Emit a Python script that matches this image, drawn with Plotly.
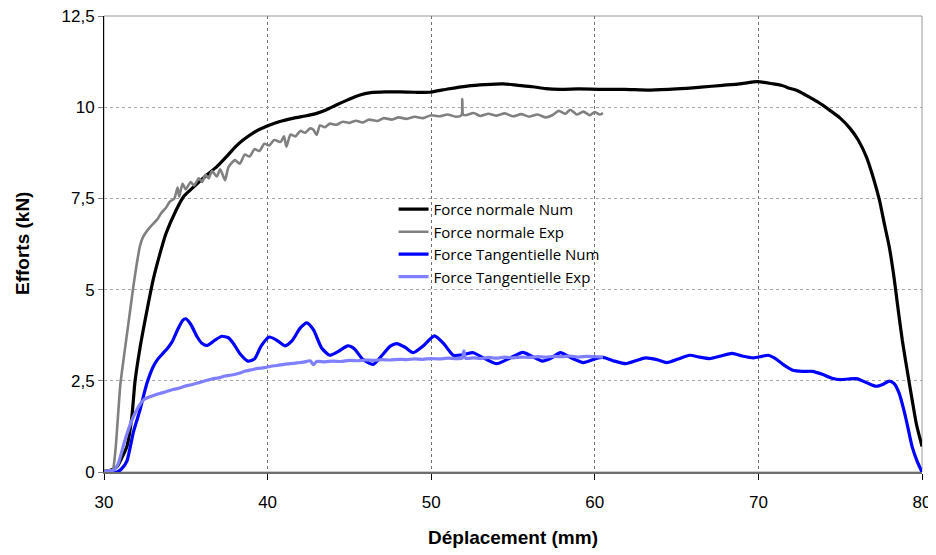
import plotly.graph_objects as go

# ---- data ----
fn_num_x = [30.0, 30.4, 30.8, 31.1, 31.4, 31.7, 31.9, 32.2, 32.4, 32.7, 33.0, 33.4, 33.8, 34.4, 34.85,
            35.25, 35.8, 36.3, 36.9, 37.5, 38.0, 38.5, 39.2, 39.9, 40.7, 41.6, 42.3, 43.0, 43.6, 44.2,
            44.9, 45.6, 46.3, 47.2, 48.1, 49.0, 49.9, 51.0, 52.2, 53.3, 54.4, 55.3, 56.2, 57.0, 57.9,
            59.0, 60.3, 61.8, 63.4, 65.0, 66.5, 67.8, 68.85, 69.97, 70.9, 71.4, 71.9, 72.4, 72.9, 73.6,
            74.35, 75.0, 75.6, 76.1, 76.6, 77.0, 77.4, 77.7, 78.0, 78.3, 78.5, 78.8, 79.2, 79.4, 79.65, 80.0]
fn_num_y = [0.02, 0.05, 0.15, 0.4, 0.7, 1.5, 2.5, 3.4, 3.9, 4.6, 5.26, 5.95, 6.55, 7.17, 7.54,
            7.72, 7.95, 8.15, 8.37, 8.65, 8.9, 9.1, 9.32, 9.47, 9.6, 9.7, 9.76, 9.83, 9.93, 10.06,
            10.2, 10.33, 10.4, 10.42, 10.42, 10.41, 10.41, 10.5, 10.58, 10.62, 10.64, 10.6, 10.56, 10.51, 10.49,
            10.5, 10.49, 10.49, 10.47, 10.5, 10.55, 10.6, 10.64, 10.7, 10.64, 10.6, 10.52, 10.45, 10.33, 10.15,
            9.92, 9.7, 9.42, 9.1, 8.64, 8.1, 7.45, 6.8, 6.17, 5.3, 4.6, 3.6, 2.5, 1.97, 1.33, 0.7]

fn_exp_x = [30.0, 30.5, 30.7, 30.85, 31.0, 31.2, 31.5, 31.8, 32.0, 32.2, 32.4, 32.7, 33.0, 33.3, 33.5,
            33.8, 34.0, 34.3, 34.5, 34.6, 34.8, 35.0, 35.3, 35.5, 35.8, 36.0, 36.2, 36.4, 36.6, 36.9,
            37.1, 37.4, 37.6, 38.0, 38.3, 38.6, 38.9, 39.2, 39.5, 39.8, 40.1, 40.4, 40.8, 41.0, 41.15,
            41.4, 41.7, 42.0, 42.3, 42.6, 42.8, 43.0, 43.2, 43.5, 43.8, 44.2, 44.6, 45.0, 45.4, 45.8,
            46.2, 46.7, 47.1, 47.6, 48.0, 48.5, 49.0, 49.5, 50.0, 50.5, 51.0, 51.5, 51.85, 51.9, 51.95,
            52.1, 52.6, 53.0, 53.5, 54.0, 54.5, 55.0, 55.5, 56.0, 56.5, 57.0, 57.4, 57.8, 58.2, 58.5,
            58.9, 59.3, 59.7, 60.0, 60.3, 60.5]
fn_exp_y = [0.0, 0.02, 0.6, 1.5, 2.4, 3.1, 4.1, 5.1, 5.7, 6.2, 6.45, 6.65, 6.8, 6.95, 7.1,
            7.25, 7.4, 7.5, 7.8, 7.55, 7.9, 7.75, 7.95, 7.85, 8.05, 7.95, 8.15, 8.05, 8.25, 8.1,
            8.3, 8.0, 8.35, 8.55, 8.45, 8.7, 8.65, 8.85, 8.8, 9.0, 8.95, 9.1, 9.05, 9.2, 8.92,
            9.25, 9.2, 9.35, 9.3, 9.42, 9.38, 9.24, 9.5, 9.45, 9.55, 9.52, 9.6, 9.57, 9.63, 9.58,
            9.66, 9.62, 9.7, 9.66, 9.72, 9.68, 9.74, 9.7, 9.78, 9.75, 9.8, 9.74, 9.78, 10.22, 9.8,
            9.78, 9.84, 9.76, 9.82, 9.77, 9.83, 9.75, 9.81, 9.74, 9.8, 9.72, 9.78, 9.9, 9.82, 9.93,
            9.8, 9.88, 9.78, 9.87, 9.8, 9.84]

ft_num_x = [30.0, 30.8, 31.1, 31.4, 31.8, 32.2, 32.6, 33.0, 33.3, 33.6, 33.9, 34.2, 34.5, 34.8, 35.0,
            35.3, 35.7, 36.0, 36.3, 36.8, 37.2, 37.6, 37.9, 38.3, 38.8, 39.2, 39.6, 40.1, 40.5, 41.06,
            41.5, 42.0, 42.4, 42.8, 43.3, 43.8, 44.3, 44.9, 45.3, 45.8, 46.45, 47.0, 47.5, 47.9, 48.4,
            48.9, 49.5, 50.2, 50.8, 51.35, 52.0, 52.56, 53.3, 54.0, 54.8, 55.6, 56.2, 56.8, 57.4, 57.9,
            58.6, 59.3, 60.0, 60.5, 61.2, 61.9, 62.5, 63.1, 63.8, 64.4, 65.1, 65.8, 66.4, 67.0, 67.7,
            68.4, 69.0, 69.7, 70.2, 70.6, 71.0, 71.5, 72.1, 72.7, 73.3, 73.9, 74.5, 75.0, 75.5, 76.0,
            76.6, 77.2, 77.6, 78.0, 78.3, 78.6, 79.0, 79.4, 79.7, 80.0]
ft_num_y = [0.0, 0.0, 0.1, 0.3, 1.1, 1.7, 2.4, 2.88, 3.1, 3.25, 3.4, 3.6, 3.9, 4.15, 4.2,
            4.05, 3.7, 3.52, 3.47, 3.62, 3.72, 3.68, 3.53, 3.25, 3.04, 3.1, 3.45, 3.7, 3.63, 3.46,
            3.6, 3.95, 4.09, 3.9, 3.4, 3.2, 3.3, 3.46, 3.38, 3.1, 2.95, 3.2, 3.45, 3.52, 3.42,
            3.27, 3.45, 3.73, 3.5, 3.2, 3.22, 3.27, 3.1, 2.97, 3.12, 3.28, 3.16, 3.04, 3.14, 3.27,
            3.12, 3.0, 3.1, 3.14, 3.04, 2.97, 3.05, 3.13, 3.08, 3.0, 3.1, 3.2, 3.15, 3.11, 3.18,
            3.25, 3.18, 3.13, 3.17, 3.2, 3.12, 2.95, 2.79, 2.76, 2.76, 2.68, 2.57, 2.53, 2.55, 2.56,
            2.45, 2.35, 2.4, 2.49, 2.42, 2.16, 1.5, 0.69, 0.3, 0.0]

ft_exp_x = [30.0, 30.3, 30.6, 30.87, 31.2, 31.6, 32.0, 32.4, 32.8, 33.4, 33.8, 34.2, 34.6, 35.0, 35.4,
            35.8, 36.2, 36.6, 37.0, 37.4, 37.8, 38.2, 38.6, 39.0, 39.4, 39.8, 40.2, 40.6, 41.0, 41.4,
            41.8, 42.2, 42.6, 42.8, 43.0, 43.5, 44.0, 44.5, 45.0, 45.5, 46.0, 46.5, 47.0, 47.5, 48.0,
            48.5, 49.0, 49.5, 50.0, 50.5, 51.0, 51.5, 51.9, 52.0, 52.1, 52.6, 53.0, 53.5, 54.0, 54.5,
            55.0, 55.5, 56.0, 56.5, 57.0, 57.5, 58.0, 58.5, 59.0, 59.5, 60.0, 60.5]
ft_exp_y = [0.0, 0.04, 0.05, 0.23, 0.75, 1.3, 1.7, 1.97, 2.06, 2.15, 2.2, 2.26, 2.3, 2.36, 2.4,
            2.45, 2.5, 2.55, 2.58, 2.63, 2.66, 2.7, 2.76, 2.8, 2.84, 2.86, 2.9, 2.92, 2.95, 2.97,
            2.99, 3.01, 3.05, 2.94, 3.03, 3.02, 3.04, 3.03, 3.06, 3.05, 3.07, 3.06, 3.08, 3.07, 3.09,
            3.08, 3.1, 3.09, 3.11, 3.1, 3.12, 3.11, 3.12, 3.32, 3.12, 3.13, 3.11, 3.14, 3.12, 3.15,
            3.13, 3.15, 3.14, 3.16, 3.15, 3.17, 3.16, 3.18, 3.15, 3.17, 3.16, 3.15]

x_ticks = [30, 40, 50, 60, 70, 80]
x_tick_text = ["30", "40", "50", "60", "70", "80"]
y_ticks = [0, 2.5, 5, 7.5, 10, 12.5]
y_tick_text = ["0", "2,5", "5", "7,5", "10", "12,5"]

series = [
    ("Force normale Num", fn_num_x, fn_num_y, "#000000", 3.2),
    ("Force normale Exp", fn_exp_x, fn_exp_y, "#808080", 2.6),
    ("Force Tangentielle Num", ft_num_x, ft_num_y, "#0000FF", 3.2),
    ("Force Tangentielle Exp", ft_exp_x, ft_exp_y, "#8080FF", 3.2),
]

fig = go.Figure()
for name, xs, ys, col, w in series:
    fig.add_trace(go.Scatter(x=xs, y=ys, mode="lines", name=name,
                             line=dict(color=col, width=w, shape="spline", smoothing=0.6)))

font_main = "Liberation Sans, Arial, sans-serif"

# the page body adds an 8px margin, so the figure is sized to fit inside the window
fig.update_layout(
    width=928, height=547,
    margin=dict(l=96, r=14, t=8, b=83, autoexpand=False),
    paper_bgcolor="white", plot_bgcolor="white",
    font=dict(family=font_main, size=17, color="black"),
    showlegend=True,
    legend=dict(x=0.354, y=0.612, xanchor="left", yanchor="top",
                bgcolor="rgba(0,0,0,0)", borderwidth=0,
                font=dict(family="Open Sans, sans-serif", size=15, color="black"),
                tracegroupgap=0),
    shapes=[
        dict(type="rect", xref="paper", yref="paper", x0=0, x1=1, y0=0, y1=1,
             line=dict(color="#9a9a9a", width=1), fillcolor="rgba(0,0,0,0)", layer="below"),
    ],
    annotations=[
        dict(text="<b>Déplacement (mm)</b>", xref="paper", yref="paper", x=0.5, y=0,
             xanchor="center", yanchor="middle", yshift=-65, showarrow=False,
             font=dict(size=19, family=font_main, color="black")),
        dict(text="<b>Efforts (kN)</b>", xref="paper", yref="paper", x=0, y=0.5,
             xanchor="center", yanchor="middle", xshift=-82, textangle=-90, showarrow=False,
             font=dict(size=19, family=font_main, color="black")),
    ],
)

fig.update_xaxes(
    range=[30, 80], tickvals=x_ticks, ticktext=x_tick_text, automargin=False,
    ticklabeloverflow="allow", ticklabelstandoff=8,
    showgrid=True, gridcolor="#707070", griddash="dot", gridwidth=1,
    showline=True, linecolor="#6e6e6e", linewidth=2,
    ticks="outside", ticklen=6, tickcolor="black", tickwidth=1,
    zeroline=False,
    tickfont=dict(size=17, family=font_main),
)
fig.update_yaxes(
    range=[0, 12.5], tickvals=y_ticks, ticktext=y_tick_text, automargin=False,
    ticklabeloverflow="allow",
    showgrid=True, gridcolor="#a8a8a8", griddash="dot", gridwidth=1,
    showline=True, linecolor="black", linewidth=1,
    ticks="outside", ticklen=5, tickcolor="#808080", tickwidth=1,
    zeroline=False,
    tickfont=dict(size=17, family=font_main),
)

fig.write_html("out.html")
